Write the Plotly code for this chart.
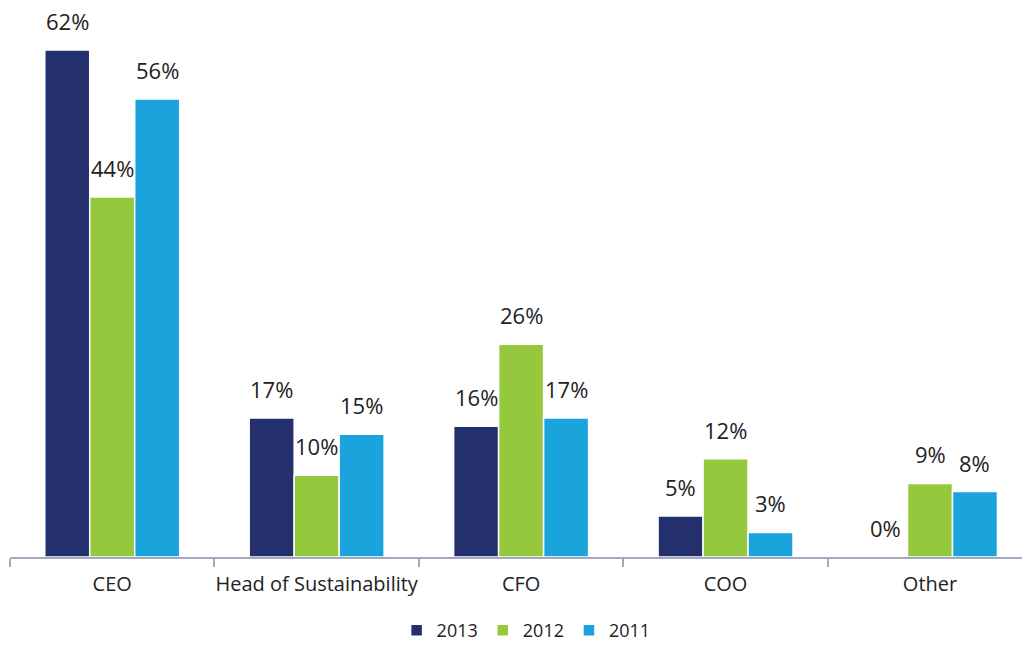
import plotly.graph_objects as go

categories = ["CEO", "Head of Sustainability", "CFO", "COO", "Other"]
years = ["2013", "2012", "2011"]
values_2013 = [62, 17, 16, 5, 0]
values_2012 = [44, 10, 26, 12, 9]
values_2011 = [56, 15, 17, 3, 8]
series = [values_2013, values_2012, values_2011]
colors = ["#24306d", "#95c83d", "#1ba3dc"]

BARGAP = 0.34
FONT = "Open Sans"
TEXT_COLOR = "#222222"

fig = go.Figure()
for name, vals, col in zip(years, series, colors):
    fig.add_trace(go.Bar(
        x=categories, y=vals, name=name,
        marker=dict(color=col, line=dict(color="white", width=1.5)),
        hoverinfo="skip",
    ))

# value labels positioned via the axis scales (category index + group offset)
w = (1 - BARGAP) / 3
for k, vals in enumerate(series):
    for i, v in enumerate(vals):
        fig.add_annotation(
            x=i + (k - 1) * w, y=v, xref="x", yref="y",
            text=f"{v}%", showarrow=False,
            yanchor="middle", yshift=29,
            font=dict(family=FONT, size=22, color=TEXT_COLOR),
        )

fig.update_layout(
    width=1022, height=645,
    margin=dict(l=10, r=0, t=0, b=88, autoexpand=False),
    paper_bgcolor="white", plot_bgcolor="white",
    barmode="group", bargap=BARGAP, bargroupgap=0,
    font=dict(family=FONT, size=20, color=TEXT_COLOR),
    showlegend=True,
    legend=dict(orientation="h", x=0.51, xanchor="center", y=-0.132, yanchor="middle",
                font=dict(family=FONT, size=18, color=TEXT_COLOR),
                itemwidth=30, traceorder="normal", borderwidth=0),
    xaxis=dict(
        type="category", categoryorder="array", categoryarray=categories,
        range=[-0.5, 4.45], showline=True, linecolor="#a3a7c2", linewidth=2,
        ticks="outside", ticklen=8, tickcolor="#a3a7c2", tickwidth=2,
        tickson="boundaries", showgrid=False, zeroline=False, ticklabelstandoff=8,
        tickangle=0, tickfont=dict(family=FONT, size=20, color=TEXT_COLOR),
    ),
    yaxis=dict(range=[0, 68.1], visible=False, showgrid=False, zeroline=False),
)

fig.write_html("out.html", config={"displayModeBar": False},
               post_script="document.body.style.margin='0';")
